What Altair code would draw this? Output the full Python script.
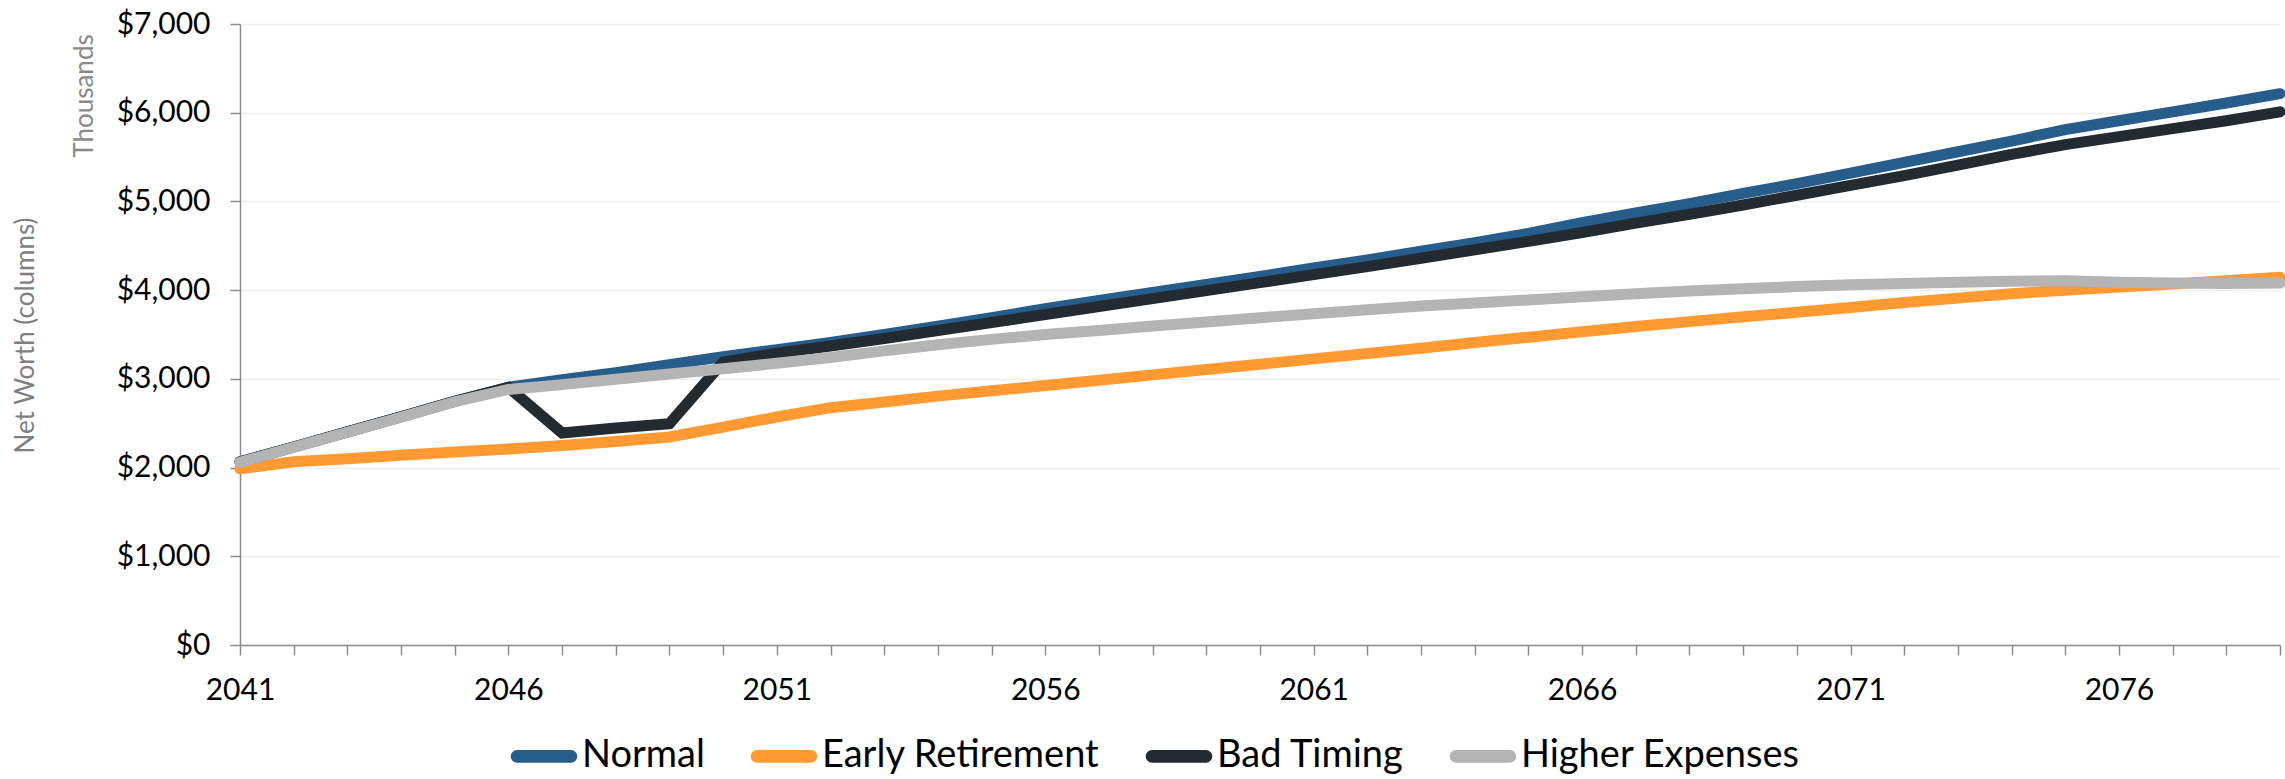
import altair as alt
import pandas as pd

years = list(range(2041, 2080))

normal = [2065, 2232, 2402, 2572, 2748, 2905, 2990, 3070, 3160, 3250,
          3330, 3410, 3500, 3595, 3690, 3790, 3885, 3975, 4065, 4155,
          4250, 4340, 4440, 4535, 4640, 4760, 4870, 4975, 5090, 5200,
          5320, 5440, 5560, 5680, 5810, 5910, 6010, 6110, 6215]

early_retirement = [1985, 2065, 2100, 2140, 2175, 2210, 2250, 2295, 2345, 2455,
                    2570, 2675, 2740, 2805, 2865, 2925, 2985, 3045, 3105, 3165,
                    3225, 3285, 3345, 3410, 3470, 3530, 3590, 3645, 3700, 3750,
                    3805, 3860, 3910, 3960, 4000, 4035, 4070, 4105, 4145]

bad_timing = [2065, 2232, 2402, 2572, 2748, 2905, 2390, 2445, 2495, 3190,
              3290, 3370, 3455, 3545, 3635, 3725, 3815, 3905, 3995, 4085,
              4175, 4265, 4360, 4455, 4550, 4650, 4755, 4855, 4960, 5070,
              5180, 5290, 5410, 5530, 5640, 5730, 5820, 5910, 6010]

higher_expenses = [2060, 2228, 2398, 2568, 2742, 2880, 2935, 2995, 3055, 3115,
                   3175, 3240, 3315, 3385, 3445, 3500, 3545, 3595, 3640, 3690,
                   3735, 3780, 3820, 3855, 3890, 3925, 3960, 3990, 4015, 4040,
                   4060, 4075, 4090, 4100, 4105, 4090, 4080, 4075, 4080]

scenarios = ["Normal", "Early Retirement", "Bad Timing", "Higher Expenses"]
colors = ["#265D8A", "#FF9A33", "#232B31", "#B4B4B4"]
series = [normal, early_retirement, bad_timing, higher_expenses]

rows = []
for name, vals in zip(scenarios, series):
    for yr, v in zip(years, vals):
        rows.append({"year": yr, "value": v, "scenario": name})
df = pd.DataFrame(rows)

FONT = "Lato"
AXIS_GREY = "#8C8C8C"

# thin capsule outline; stroked thickly it reads as a round-capped bar
CAPSULE = ("M -0.9 -0.01 L 0.9 -0.01 A 0.01 0.01 0 0 1 0.9 0.01 "
           "L -0.9 0.01 A 0.01 0.01 0 0 1 -0.9 -0.01 Z")

x_enc = alt.X(
    "year:Q",
    scale=alt.Scale(domain=[2041, 2079], nice=False, zero=False),
    axis=alt.Axis(
        values=years,
        labelExpr="(datum.value - 2041) % 5 == 0 ? datum.value : ''",
        format="d",
        title=None,
        grid=False,
        labelOverlap=False,
        labelFlush=False,
        tickSize=10,
        labelPadding=20,
    ),
)
y_enc = alt.Y(
    "value:Q",
    scale=alt.Scale(domain=[0, 7000], nice=False),
    axis=alt.Axis(
        values=[0, 1000, 2000, 3000, 4000, 5000, 6000, 7000],
        format="$,.0f",
        title="Net Worth (columns)",
        titleX=-215,
        titleY=311,
        titleAngle=270,
        titleAlign="center",
        titleBaseline="middle",
        titleColor="#7F7F7F",
        titleFontSize=26,
        titleFontWeight="normal",
        titleFont=FONT,
        tickSize=10,
        labelPadding=20,
        grid=True,
    ),
)
color_enc = alt.Color(
    "scenario:N",
    scale=alt.Scale(domain=scenarios, range=colors),
    legend=alt.Legend(
        title=None,
        orient="none",
        direction="horizontal",
        legendX=268,
        legendY=696,
        symbolType=CAPSULE,
        symbolSize=3600,
        symbolStrokeWidth=12,
        labelFontSize=38,
        labelFont=FONT,
        labelColor="#000000",
        labelLimit=0,
        labelOffset=2,
        columnPadding=27,
        values=scenarios,
    ),
)

layers = []
for name in scenarios:
    layers.append(
        alt.Chart(df)
        .transform_filter(alt.datum.scenario == name)
        .mark_line(strokeWidth=11, strokeCap="round", strokeJoin="miter")
        .encode(x=x_enc, y=y_enc, color=color_enc)
    )

units_label = (
    alt.Chart(pd.DataFrame({"t": ["Thousands"]}))
    .mark_text(angle=270, font=FONT, fontSize=26, color="#8A8A8A",
               align="center", baseline="middle")
    .encode(x=alt.value(-155), y=alt.value(72), text="t:N")
)

chart = (
    alt.layer(*layers, units_label)
    .properties(
        width=2040,
        height=621,
        autosize=alt.AutoSizeParams(type="none"),
        padding={"left": 240, "top": 24, "right": 5, "bottom": 134},
        background="white",
    )
    .configure_view(stroke=None)
    .configure_axis(
        labelFont=FONT,
        labelFontSize=30,
        labelColor="#000000",
        domainColor=AXIS_GREY,
        domainWidth=1.5,
        tickColor=AXIS_GREY,
        tickWidth=1.5,
        gridColor="#EFEFEF",
        gridWidth=1.5,
    )
)

chart.save("out.html", embed_options={"renderer": "svg", "actions": False})
